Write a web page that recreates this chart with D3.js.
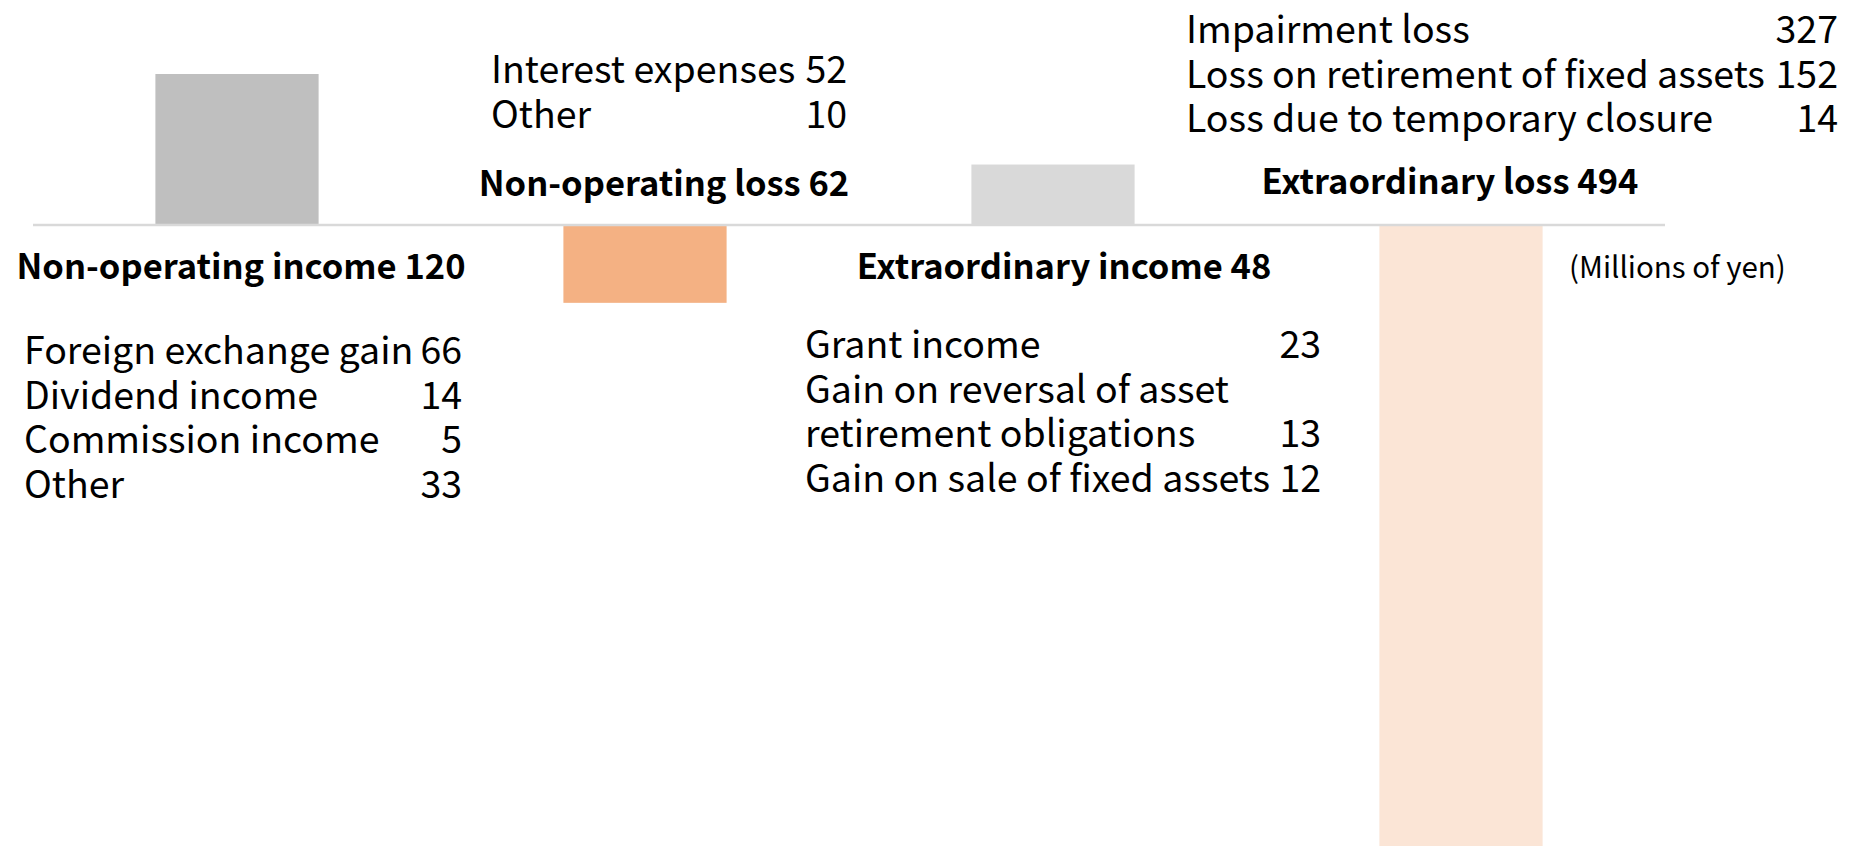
<!DOCTYPE html>
<html>
<head>
<meta charset="utf-8">
<script src="https://cdn.jsdelivr.net/npm/d3@7"></script>
<style>
  html, body { margin: 0; padding: 0; background: #fff; }
  svg { display: block; }
  text { font-family: "Noto Sans CJK JP", "Noto Sans", sans-serif; fill: #000; }
</style>
</head>
<body>
<svg id="chart" width="1850" height="846"></svg>
<script>
// data
var categories = ["Non-operating income", "Non-operating loss", "Extraordinary income", "Extraordinary loss"];
var values = [120, -62, 48, -494];

var nonOpIncomeItems = ["Foreign exchange gain", "Dividend income", "Commission income", "Other"];
var nonOpIncomeValues = [66, 14, 5, 33];
var nonOpLossItems = ["Interest expenses", "Other"];
var nonOpLossValues = [52, 10];
var extraIncomeItems = ["Grant income", "Gain on reversal of asset|retirement obligations", "Gain on sale of fixed assets"];
var extraIncomeValues = [23, 13, 12];
var extraLossItems = ["Impairment loss", "Loss on retirement of fixed assets", "Loss due to temporary closure"];
var extraLossValues = [327, 152, 14];

var unitLabel = "(Millions of yen)";

var barColors = ["#bfbfbf", "#f4b183", "#d9d9d9", "#fbe5d6"];

var width = 1850, height = 846;
var svg = d3.select("#chart");

var x = d3.scaleBand()
    .domain(categories)
    .range([33, 1665])
    .paddingInner(0.6)
    .paddingOuter(0.3);

var y = d3.scaleLinear()
    .domain([-494, 120])
    .range([846, 74]);

svg.selectAll("rect.bar")
    .data(values)
    .enter().append("rect")
    .attr("class", "bar")
    .attr("x", function (d, i) { return x(categories[i]); })
    .attr("width", x.bandwidth())
    .attr("y", function (d) { return y(Math.max(0, d)); })
    .attr("height", function (d) { return Math.abs(y(d) - y(0)); })
    .style("fill", function (d, i) { return barColors[i]; });

// zero line
svg.append("line")
    .attr("x1", 33).attr("x2", 1665)
    .attr("y1", y(0)).attr("y2", y(0))
    .style("stroke", "#d9d9d9")
    .style("stroke-width", 2.5);

// text blocks: title + breakdown for each bar
var groups = [
    { title: categories[0] + " " + values[0], cx: 241, ty: 279, items: nonOpIncomeItems, vals: nonOpIncomeValues, left: 24, right: 462, y0: 364, lh: 44.5 },
    { title: categories[1] + " " + Math.abs(values[1]), cx: 664, ty: 196, items: nonOpLossItems, vals: nonOpLossValues, left: 491, right: 847, y0: 83, lh: 45 },
    { title: categories[2] + " " + values[2], cx: 1064, ty: 279, items: extraIncomeItems, vals: extraIncomeValues, left: 805, right: 1321, y0: 358, lh: 44.7 },
    { title: categories[3] + " " + Math.abs(values[3]), cx: 1450, ty: 194, items: extraLossItems, vals: extraLossValues, left: 1186, right: 1838, y0: 43, lh: 44.5 }
];

var fontSize = 37.5;
var titleSize = 34.5;

groups.forEach(function (g) {
    svg.append("text")
        .attr("x", g.cx)
        .attr("y", g.ty)
        .attr("text-anchor", "middle")
        .style("font-size", titleSize + "px")
        .style("font-weight", "bold")
        .text(g.title);

    var line = 0;
    g.items.forEach(function (label, i) {
        var parts = label.split("|");
        parts.forEach(function (p) {
            svg.append("text")
                .attr("x", g.left)
                .attr("y", g.y0 + line * g.lh)
                .style("font-size", fontSize + "px")
                .text(p);
            line++;
        });
        svg.append("text")
            .attr("x", g.right)
            .attr("y", g.y0 + (line - 1) * g.lh)
            .attr("text-anchor", "end")
            .style("font-size", fontSize + "px")
            .text(g.vals[i]);
    });
});

svg.append("text")
    .attr("x", 1569)
    .attr("y", 278)
    .style("font-size", "29.5px")
    .text(unitLabel);
</script>
</body>
</html>
